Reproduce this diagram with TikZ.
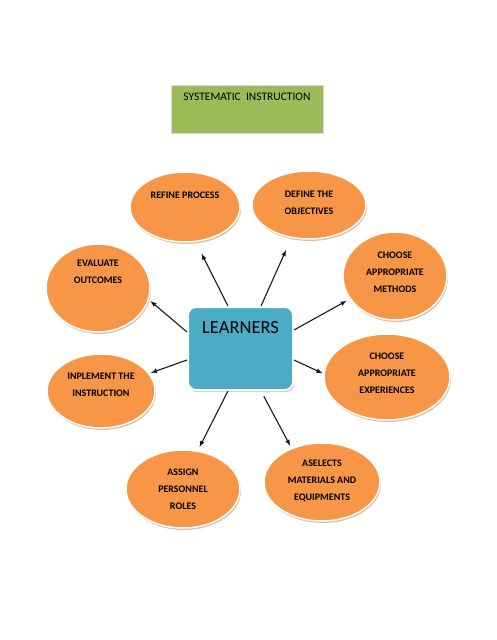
\documentclass[tikz,border=0pt]{standalone}
\usepackage{fontspec}
\setmainfont{Carlito}
\usepackage{tikz}
\usetikzlibrary{arrows.meta, shadows, shapes.geometric}
\definecolor{ideaorange}{HTML}{F79646}
\definecolor{hubblue}{HTML}{4BACC6}
\definecolor{headgreen}{HTML}{9BBB59}
\definecolor{rimtan}{HTML}{D8B89C}

\begin{document}
\begin{tikzpicture}[
        x=1pt, y=-1pt,
        idea/.style={
          ellipse, fill=ideaorange, draw=white, line width=1.5pt,
          inner sep=0pt,
          drop shadow={shadow xshift=1pt, shadow yshift=-2pt, fill=rimtan, opacity=0.9},
        },
        ideatext/.style={
          font=\fontsize{10}{17}\selectfont\bfseries, align=center, text=black,
        },
        hub/.style={
          rectangle, rounded corners=8pt, fill=hubblue, draw=white, line width=2pt,
          minimum width=105pt, minimum height=83pt,
          drop shadow={shadow xshift=1pt, shadow yshift=-2pt, fill=black!30, opacity=0.7},
        },
        hubtext/.style={
          font=\fontsize{18.5}{20}\selectfont, text=black,
        },
        headbox/.style={
          rectangle, fill=headgreen, draw=black!15, line width=0.6pt,
          minimum width=152pt, minimum height=48pt,
        },
        headtext/.style={
          font=\fontsize{11.5}{14}\selectfont, text=black,
        },
        chain/.style={
          -latex, draw=black!90, line width=1.1pt,
        },
      ]
      \useasboundingbox (0,0) rectangle (497,640);

      \node[headbox, label={[headtext, yshift=12pt]center:SYSTEMATIC\ \ INSTRUCTION}] (head) at (247,109) {};

      \node[hub, label={[hubtext, yshift=20.5pt]center:LEARNERS}] (hub) at (240.5,348.5) {};

      \node[idea, minimum width=110pt, minimum height=70pt,
        label={[ideatext, yshift=12pt]center:REFINE PROCESS}] (refine) at (185,207) {};
      \node[idea, minimum width=114pt, minimum height=68pt,
        label={[ideatext, yshift=2.5pt]center:DEFINE THE\\OBJECTIVES}] (define) at (309,205) {};
      \node[idea, minimum width=104pt, minimum height=88pt,
        label={[ideatext, yshift=16pt]center:EVALUATE\\OUTCOMES}] (evaluate) at (98,288) {};
      \node[idea, minimum width=104pt, minimum height=88pt,
        label={[ideatext, yshift=4pt]center:CHOOSE\\APPROPRIATE\\METHODS}] (methods) at (395,276) {};
      \node[idea, minimum width=108pt, minimum height=74pt,
        label={[ideatext, yshift=6pt]center:INPLEMENT THE\\INSTRUCTION}] (implement) at (101,391) {};
      \node[idea, minimum width=126pt, minimum height=86pt,
        label={[ideatext, yshift=4pt]center:CHOOSE\\APPROPRIATE\\EXPERIENCES}] (experiences) at (387,377) {};
      \node[idea, minimum width=114pt, minimum height=78pt,
        label={[ideatext]center:ASSIGN\\PERSONNEL\\ROLES}] (assign) at (183,489) {};
      \node[idea, minimum width=116pt, minimum height=78pt,
        label={[ideatext, yshift=1.5pt]center:ASELECTS\\MATERIALS AND\\EQUIPMENTS}] (materials) at (322,482) {};

      \draw[chain, shorten >=13pt] ([xshift=-12.5pt]hub.north) -- (refine.-73.7);
      \draw[chain, shorten >=13pt] ([xshift=20.5pt]hub.north) -- (define.-118.6);
      \draw[chain, shorten >=2pt] ([yshift=16.5pt]hub.west) -- (evaluate.-13);
      \draw[chain, shorten >=3.5pt] ([yshift=18.5pt]hub.east) -- (methods.-153.4);
      \draw[chain, shorten >=1.5pt] ([yshift=-11.5pt]hub.west) -- (implement.20.2);
      \draw[chain, shorten >=1pt] ([yshift=-11.5pt]hub.east) -- (experiences.177.3);
      \draw[chain, shorten >=4pt] ([xshift=-12.5pt]hub.south) -- (assign.69);
      \draw[chain, shorten <=6pt, shorten >=2.5pt] ([xshift=20.5pt]hub.south) -- (materials.132.4);
    \end{tikzpicture}
\end{document}
